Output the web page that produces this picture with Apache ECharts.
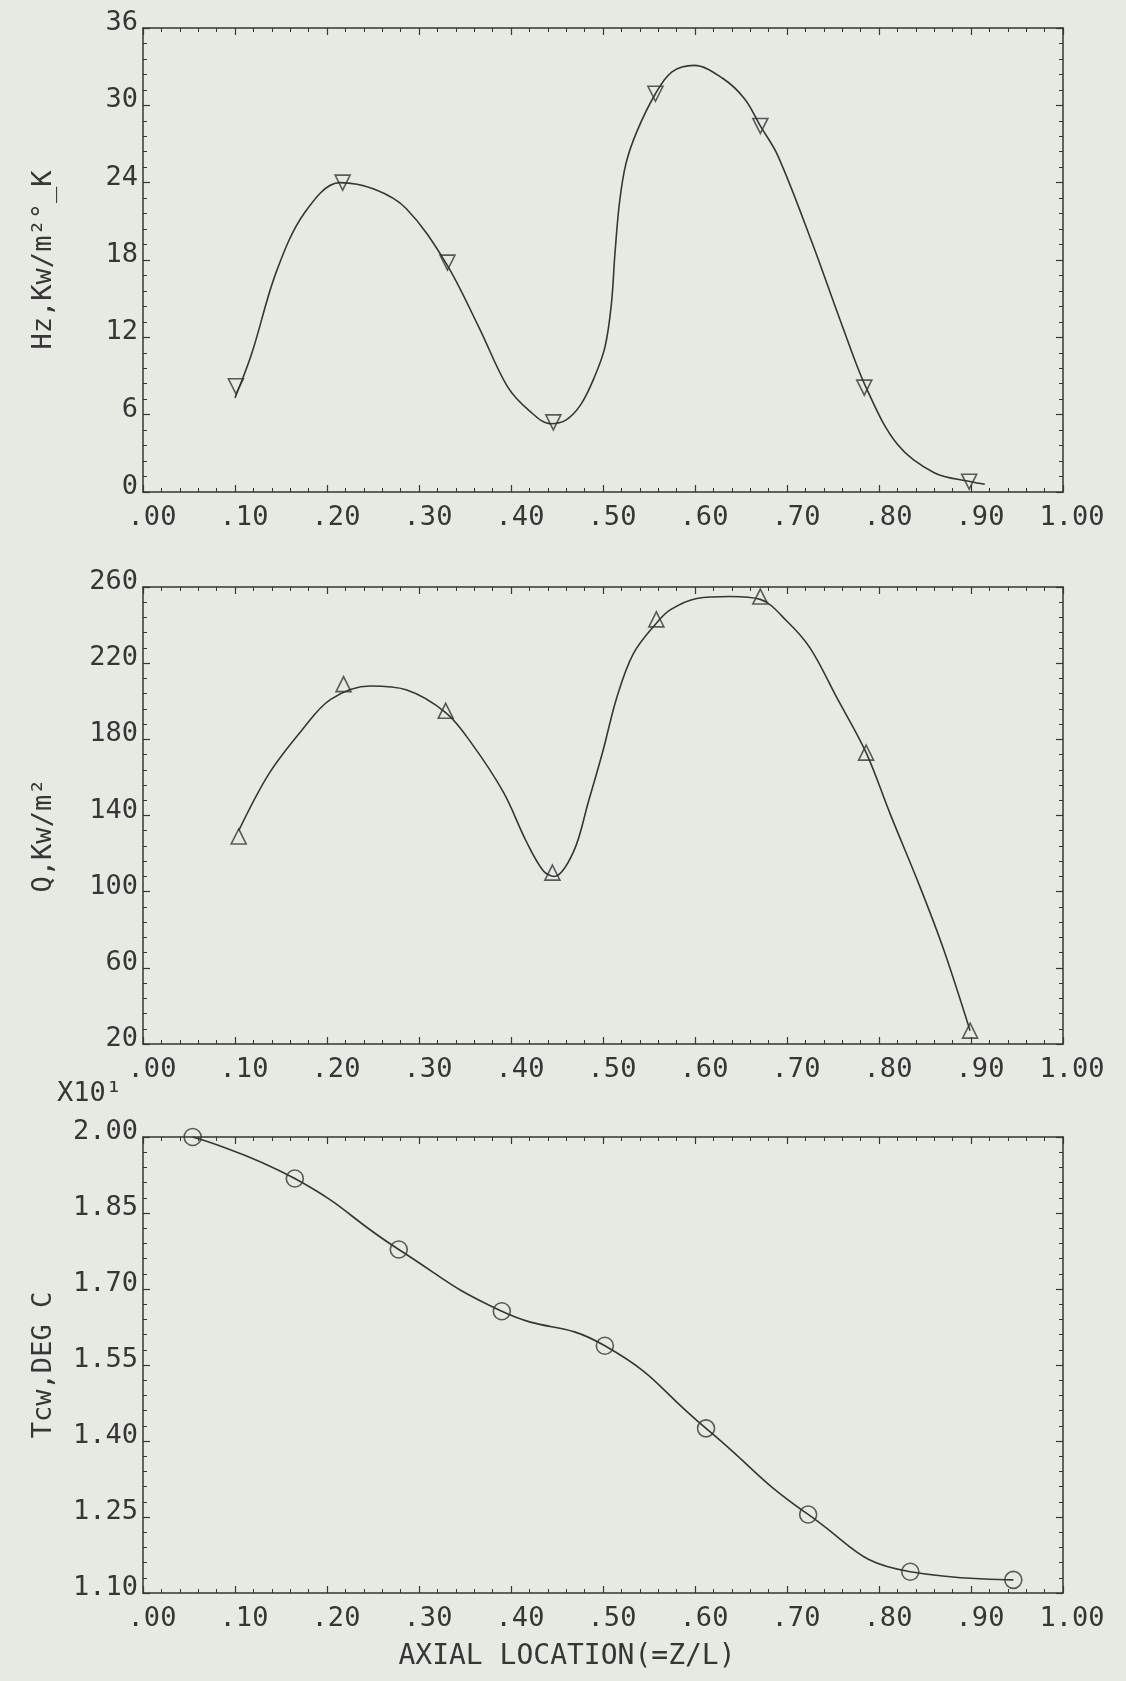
<!DOCTYPE html>
<html>
<head>
<meta charset="utf-8">
<style>
  html, body { margin: 0; padding: 0; background: #e6eae3; }
  #main { width: 1126px; height: 1681px; }
</style>
<script src="https://cdn.jsdelivr.net/npm/echarts@6/dist/echarts.min.js"></script>
</head>
<body>
<div id="main"></div>
<script>
// values (x = Z/L)

// top panel: Hz, Kw/m2 K  (curve traced, markers = down triangles)
const hzCurveX = [0.100,0.118,0.145,0.176,0.214,0.251,0.286,0.329,0.365,0.396,0.420,0.443,0.460,0.476,0.490,0.502,0.509,0.513,0.518,0.525,0.537,0.557,0.575,0.599,0.630,0.654,0.671,0.690,0.727,0.759,0.786,0.820,0.860,0.900,0.915]
const hzCurveY = [7.3,10.7,17.1,21.7,24.0,23.5,22.0,17.8,12.8,8.2,6.3,5.3,5.6,6.8,8.8,11.2,14.5,18.5,22.5,25.5,28.0,30.9,32.6,33.1,32.1,30.5,28.4,26.1,19.4,13.1,8.1,3.7,1.5,0.8,0.6]
const hzMarkX = [0.101,0.217,0.331,0.446,0.557,0.671,0.784,0.898]
const hzMarkY = [8.2,24.0,17.8,5.4,30.9,28.4,8.1,0.8]

// middle panel: Q, Kw/m2  (markers = up triangles)
const qCurveX = [0.104,0.137,0.173,0.204,0.247,0.286,0.329,0.357,0.392,0.416,0.435,0.447,0.468,0.484,0.500,0.515,0.533,0.558,0.573,0.602,0.638,0.671,0.700,0.725,0.754,0.786,0.812,0.845,0.870,0.899]
const qCurveY = [132,162,185,201,208,206,194,178,152,127,111,108,121,147,174,202,225,241,248,254,255,253.5,242,228,202,173,141,102,70,27]
const qMarkX = [0.104,0.218,0.329,0.445,0.558,0.671,0.786,0.899]
const qMarkY = [129,209,195,110,243,255,173,27]

// bottom panel: Tcw, DEG C (x10)  (markers = circles)
const tMarkX = [0.054,0.165,0.278,0.390,0.502,0.612,0.723,0.834,0.946]
const tMarkY = [2.00,1.918,1.778,1.656,1.588,1.425,1.255,1.142,1.126]

// axis ranges / tick steps
const hzAxis = {min: 0, max: 36, interval: 6}
const qAxis = {min: 20, max: 260, interval: 40}
const tAxis = {min: 1.10, max: 2.00, interval: 0.15}

const ink = '#363636'
const font = 'DejaVu Sans Mono'

function pairs(xs, ys) {
    return xs.map(function (x, i) { return [x, ys[i]] })
}

// plotter style ".00 .10 ... 1.00"
function xFmt(v) {
    if (v >= 0.999) return '1.00'
    return '.' + v.toFixed(2).split('.')[1]
}

const grids = [
    {left: 143, top: 28, width: 920, height: 464},
    {left: 143, top: 587, width: 920, height: 457},
    {left: 143, top: 1137, width: 920, height: 456}
]

let xAxis = []
let yAxis = []

function frameAxis(extra) {
    return Object.assign({
        type: 'value',
        axisLine: {onZero: false, lineStyle: {color: ink, width: 1.5}},
        axisTick: {inside: true, length: 7, lineStyle: {color: ink, width: 1.2}},
        minorTick: {show: true, splitNumber: 5, length: 4, lineStyle: {color: ink, width: 1}},
        splitLine: {show: false},
        minorSplitLine: {show: false}
    }, extra)
}

const yInfo = [
    {range: hzAxis, name: 'Hz,Kw/m²°_K', fmt: function (v) { return String(Math.round(v)) }, pad: [0, 0, 0, 0]},
    {range: qAxis, name: 'Q,Kw/m²', fmt: function (v) { return String(Math.round(v)) }, pad: [0, 40, 0, 0]},
    {range: tAxis, name: 'Tcw,DEG C', fmt: function (v) { return v.toFixed(2) }, pad: [0, 0, 0, 0]}
]

grids.forEach(function (g, i) {
    let xBottom = frameAxis({
        gridIndex: i, position: 'bottom', min: 0, max: 1, interval: 0.1,
        axisLabel: {
            formatter: xFmt, fontFamily: font, fontSize: 27, color: ink,
            margin: 12, align: 'center', padding: [0, 0, 0, 18]
        }
    })
    if (i === 2) {
        xBottom.name = 'AXIAL LOCATION(=Z/L)'
        xBottom.nameLocation = 'middle'
        xBottom.nameGap = 50
        xBottom.nameTextStyle = {fontFamily: font, fontSize: 28, color: ink, padding: [0, 72, 0, 0]}
    }
    xAxis.push(xBottom)
    xAxis.push(frameAxis({gridIndex: i, position: 'top', min: 0, max: 1, interval: 0.1, axisLabel: {show: false}}))

    let info = yInfo[i]
    yAxis.push(frameAxis({
        gridIndex: i, position: 'left',
        min: info.range.min, max: info.range.max, interval: info.range.interval,
        name: info.name, nameLocation: 'middle', nameRotate: 90, nameGap: 86,
        nameTextStyle: {fontFamily: font, fontSize: 27, color: ink, padding: info.pad},
        axisLabel: {
            formatter: info.fmt, fontFamily: font, fontSize: 27, color: ink,
            margin: 5, verticalAlign: 'bottom', lineHeight: 10
        }
    }))
    yAxis.push(frameAxis({
        gridIndex: i, position: 'right',
        min: info.range.min, max: info.range.max, interval: info.range.interval,
        axisLabel: {show: false}
    }))
})

const lineStyle = {color: ink, width: 1.6}
const hollow = {color: 'rgba(0,0,0,0)', borderColor: ink, borderWidth: 1.6}

let option = {
    animation: false,
    backgroundColor: '#e6eae3',
    grid: grids,
    xAxis: xAxis,
    yAxis: yAxis,
    graphic: [{
        type: 'text', left: 57, top: 1080,
        style: {text: 'X10¹', font: '27px "DejaVu Sans Mono"', fill: ink}
    }],
    series: [
        {type: 'line', xAxisIndex: 0, yAxisIndex: 0, data: pairs(hzCurveX, hzCurveY),
            smooth: 0.35, showSymbol: false, lineStyle: lineStyle},
        {type: 'scatter', xAxisIndex: 0, yAxisIndex: 0, data: pairs(hzMarkX, hzMarkY),
            symbol: 'triangle', symbolRotate: 180, symbolSize: 15, itemStyle: hollow},
        {type: 'line', xAxisIndex: 2, yAxisIndex: 2, data: pairs(qCurveX, qCurveY),
            smooth: 0.35, showSymbol: false, lineStyle: lineStyle},
        {type: 'scatter', xAxisIndex: 2, yAxisIndex: 2, data: pairs(qMarkX, qMarkY),
            symbol: 'triangle', symbolSize: 15, itemStyle: hollow},
        {type: 'line', xAxisIndex: 4, yAxisIndex: 4, data: pairs(tMarkX, tMarkY),
            smooth: 0.5, showSymbol: false, lineStyle: lineStyle},
        {type: 'scatter', xAxisIndex: 4, yAxisIndex: 4, data: pairs(tMarkX, tMarkY),
            symbol: 'circle', symbolSize: 17, itemStyle: hollow}
    ]
}

let myChart = echarts.init(document.getElementById('main'))
myChart.setOption(option)
</script>
</body>
</html>
